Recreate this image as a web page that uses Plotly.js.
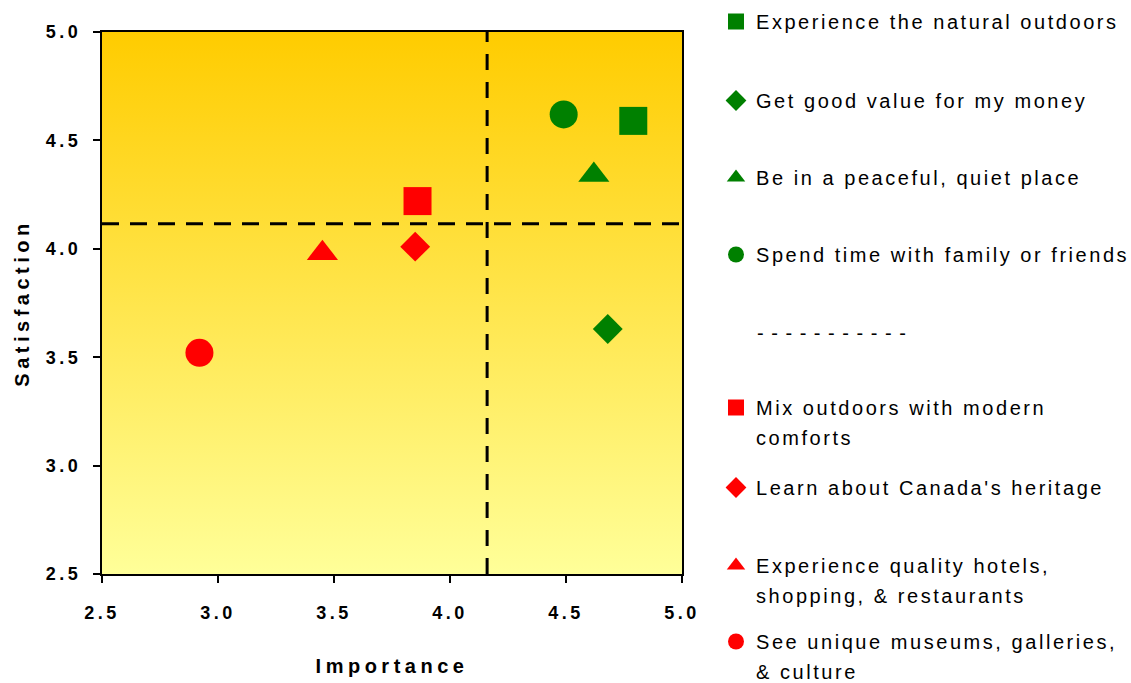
<!DOCTYPE html>
<html>
<head>
<meta charset="utf-8">
<script src="https://cdn.plot.ly/plotly-3.0.1.min.js"></script>
<style>
  html, body { margin: 0; padding: 0; background: #fff; }
  #chart { width: 1131px; height: 683px; }
  .xtick text, .ytick text { letter-spacing: 3.5px; }
  .xtitle, .ytitle { letter-spacing: 4.5px; }
  text[class^="legend"] { letter-spacing: 2.55px; }
  .annotation-text { letter-spacing: 1.0px; }
</style>
</head>
<body>
<div id="chart"></div>
<script>
// ---- data ----
const categories = [
  'Experience the natural outdoors',
  'Get good value for my money',
  'Be in a peaceful, quiet place',
  'Spend time with family or friends',
  'Mix outdoors with modern<br>comforts',
  "Learn about Canada's heritage",
  'Experience quality hotels,<br>shopping, & restaurants',
  'See unique museums, galleries,<br>& culture'
];
const importance   = [4.79, 4.68, 4.62, 4.49, 3.86, 3.85, 3.45, 2.92];
const satisfaction = [4.59, 3.63, 4.34, 4.62, 4.22, 4.01, 3.98, 3.52];
const meanImportance = 4.16;
const meanSatisfaction = 4.115;
const axisRange = [2.5, 5.0];
const tickValues = [2.5, 3.0, 3.5, 4.0, 4.5, 5.0];
const separatorText = '- - - - - - - - - - -';

// ---- styles ----
const symbols = ['square', 'diamond', 'triangle-up', 'circle', 'square', 'diamond', 'triangle-up', 'circle'];
const sizes   = [28, 23, 27, 28, 28, 23, 27, 28];
const colors  = ['#008000', '#008000', '#008000', '#008000', '#FF0000', '#FF0000', '#FF0000', '#FF0000'];
const legendRowPx = [23, 102, 179, 256, 409, 489, 567, 643]; // pixel centre of first legend line

const W = 1131, H = 683;
const margin = { l: 102, r: 449, t: 32, b: 109, autoexpand: false };
const plotH = H - margin.t - margin.b;
const plotW = W - margin.l - margin.r;
const pxToPaperY = py => (H - margin.b - py) / plotH;
const pxToPaperX = px => (px - margin.l) / plotW;

const font = 'Liberation Sans, Arial, sans-serif';

const traces = [];
// gradient background
traces.push({
  x: [axisRange[0], axisRange[1], axisRange[1], axisRange[0], axisRange[0]],
  y: [axisRange[0], axisRange[0], axisRange[1], axisRange[1], axisRange[0]],
  mode: 'none', fill: 'toself',
  fillgradient: { type: 'vertical', colorscale: [[0, '#FFFF99'], [1, '#FFCC00']] },
  hoverinfo: 'skip', showlegend: false
});

const layout = {
  width: W, height: H,
  margin: margin,
  paper_bgcolor: '#ffffff',
  plot_bgcolor: '#ffffff',
  font: { family: font, color: '#000' },
  showlegend: true,
  xaxis: {
    range: axisRange, tickvals: tickValues, tickformat: '.1f',
    showgrid: false, zeroline: false,
    showline: true, linecolor: '#000', linewidth: 2, mirror: true,
    ticks: 'outside', ticklen: 7, tickwidth: 2, tickcolor: '#000',
    tickfont: { family: font, size: 18, weight: 'bold', color: '#000' },
    ticklabelstandoff: 14,
    title: { text: 'Importance', font: { family: font, size: 20, weight: 'bold', color: '#000' }, standoff: 37 },
    automargin: false
  },
  yaxis: {
    range: axisRange, tickvals: tickValues, tickformat: '.1f',
    showgrid: false, zeroline: false,
    showline: true, linecolor: '#000', linewidth: 2, mirror: true,
    ticks: 'outside', ticklen: 7, tickwidth: 2, tickcolor: '#000',
    tickfont: { family: font, size: 18, weight: 'bold', color: '#000' },
    ticklabelstandoff: 8,
    title: { text: 'Satisfaction', font: { family: font, size: 20, weight: 'bold', color: '#000' }, standoff: 11 },
    automargin: false
  },
  shapes: [
    { type: 'line', xref: 'x', yref: 'paper', x0: meanImportance, x1: meanImportance, y0: 0, y1: 1,
      line: { color: '#000', width: 3, dash: '16px,12px' } },
    { type: 'line', xref: 'paper', yref: 'y', x0: 0, x1: 1, y0: meanSatisfaction, y1: meanSatisfaction,
      line: { color: '#000', width: 3, dash: '17px,11px' } }
  ],
  annotations: [
    { xref: 'paper', yref: 'paper', x: pxToPaperX(755), y: pxToPaperY(333), xanchor: 'left', yanchor: 'middle',
      text: separatorText, showarrow: false, font: { family: font, size: 20, color: '#000' } }
  ]
};

categories.forEach((name, i) => {
  const legId = i === 0 ? 'legend' : 'legend' + (i + 1);
  traces.push({
    type: 'scatter', mode: 'markers',
    x: [importance[i]], y: [satisfaction[i]],
    name: name,
    legend: legId,
    marker: { symbol: symbols[i], size: sizes[i], color: colors[i], line: { width: 0 } },
    hovertemplate: name.replace('<br>', ' ') + '<br>Importance: %{x}<br>Satisfaction: %{y}<extra></extra>'
  });
  layout[legId] = {
    xref: 'paper', yref: 'paper',
    x: pxToPaperX(716), y: pxToPaperY(legendRowPx[i] - 21),
    xanchor: 'left', yanchor: 'top',
    bgcolor: 'rgba(0,0,0,0)', borderwidth: 0,
    valign: 'top', itemsizing: 'trace',
    font: { family: font, size: 20, color: '#000' }
  };
});

// widen the gap between wrapped legend lines to match the reference
function spreadLegendLines() {
  document.querySelectorAll('text[class^="legend"] tspan.line').forEach((ts, k) => {
    const dy = ts.getAttribute('dy');
    if (dy && parseFloat(dy) > 0) ts.setAttribute('dy', '1.5em');
  });
}

Plotly.newPlot('chart', traces, layout, { displayModeBar: false }).then(gd => {
  spreadLegendLines();
});
</script>
</body>
</html>
